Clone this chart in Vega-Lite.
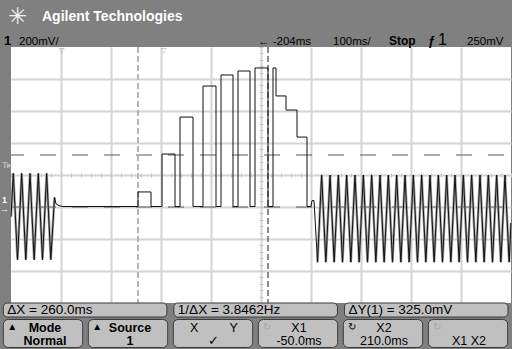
{
  "$schema": "https://vega.github.io/schema/vega-lite/v6.json",
  "width": 500,
  "height": 256,
  "autosize": {"type": "none"},
  "padding": {"left": 11, "top": 47, "right": 1, "bottom": 46},
  "background": "#808080",
  "view": {"fill": "#ffffff", "stroke": null},
  "config": {"font": "Liberation Sans"},
  "datasets": {
    "trace": [
      {"i":0,"t":-304,"v":-60},{"i":1,"t":-299.4,"v":210},{"i":2,"t":-291,"v":-330},{"i":3,"t":-282.7,"v":210},
      {"i":4,"t":-274.4,"v":-330},{"i":5,"t":-266,"v":210},{"i":6,"t":-257.7,"v":-330},{"i":7,"t":-249.4,"v":210},
      {"i":8,"t":-241,"v":-330},{"i":9,"t":-232.7,"v":210},{"i":10,"t":-224.4,"v":-330},{"i":11,"t":-217,"v":60},
      {"i":12,"t":-214,"v":20},{"i":13,"t":-208,"v":8},{"i":14,"t":-200,"v":3},{"i":15,"t":-50,"v":3},
      {"i":16,"t":-50,"v":94},{"i":17,"t":-24,"v":94},{"i":18,"t":-24,"v":3},{"i":19,"t":-2,"v":3},
      {"i":20,"t":-2,"v":331},{"i":21,"t":24,"v":331},{"i":22,"t":24,"v":3},{"i":23,"t":34,"v":3},
      {"i":24,"t":34,"v":562},{"i":25,"t":60,"v":562},{"i":26,"t":60,"v":3},{"i":27,"t":80,"v":3},
      {"i":28,"t":80,"v":756},{"i":29,"t":106,"v":756},{"i":30,"t":106,"v":3},{"i":31,"t":116,"v":3},
      {"i":32,"t":116,"v":825},{"i":33,"t":140,"v":825},{"i":34,"t":140,"v":3},{"i":35,"t":150,"v":3},
      {"i":36,"t":150,"v":850},{"i":37,"t":174,"v":850},{"i":38,"t":174,"v":3},{"i":39,"t":184,"v":3},
      {"i":40,"t":184,"v":869},{"i":41,"t":210,"v":869},{"i":42,"t":210,"v":3},{"i":43,"t":220,"v":3},
      {"i":44,"t":220,"v":869},{"i":45,"t":226,"v":869},{"i":46,"t":226,"v":694},{"i":47,"t":246,"v":694},
      {"i":48,"t":246,"v":606},{"i":49,"t":268,"v":606},{"i":50,"t":268,"v":437},{"i":51,"t":288,"v":437},
      {"i":52,"t":288,"v":3},{"i":53,"t":296,"v":3},{"i":54,"t":298,"v":40},{"i":55,"t":302,"v":40},
      {"i":56,"t":309,"v":-345},{"i":57,"t":317.3,"v":200},{"i":58,"t":325.7,"v":-345},{"i":59,"t":334,"v":200},
      {"i":60,"t":342.3,"v":-345},{"i":61,"t":350.7,"v":200},{"i":62,"t":359,"v":-345},{"i":63,"t":367.3,"v":200},
      {"i":64,"t":375.7,"v":-345},{"i":65,"t":384,"v":200},{"i":66,"t":392.3,"v":-345},{"i":67,"t":400.7,"v":200},
      {"i":68,"t":409,"v":-345},{"i":69,"t":417.3,"v":200},{"i":70,"t":425.7,"v":-345},{"i":71,"t":434,"v":200},
      {"i":72,"t":442.3,"v":-345},{"i":73,"t":450.7,"v":200},{"i":74,"t":459,"v":-345},{"i":75,"t":467.3,"v":200},
      {"i":76,"t":475.7,"v":-345},{"i":77,"t":484,"v":200},{"i":78,"t":492.3,"v":-345},{"i":79,"t":500.7,"v":200},
      {"i":80,"t":509,"v":-345},{"i":81,"t":517.3,"v":200},{"i":82,"t":525.7,"v":-345},{"i":83,"t":534,"v":200},
      {"i":84,"t":542.3,"v":-345},{"i":85,"t":550.7,"v":200},{"i":86,"t":559,"v":-345},{"i":87,"t":567.3,"v":200},
      {"i":88,"t":575.7,"v":-345},{"i":89,"t":584,"v":200},{"i":90,"t":592.3,"v":-345},{"i":91,"t":600.7,"v":200},
      {"i":92,"t":609,"v":-345},{"i":93,"t":617.3,"v":200},{"i":94,"t":625.7,"v":-345},{"i":95,"t":634,"v":200},
      {"i":96,"t":642.3,"v":-345},{"i":97,"t":650.7,"v":200},{"i":98,"t":659,"v":-345},{"i":99,"t":667.3,"v":200},
      {"i":100,"t":675.7,"v":-345},{"i":101,"t":684,"v":200},{"i":102,"t":692.3,"v":-345},{"i":103,"t":696,"v":-100}
    ],
    "xcursors": [{"cursor":"X1","t":-50,"active":"no"},{"cursor":"X2","t":210,"active":"yes"}],
    "ycursors": [{"cursor":"Y1","v":0},{"cursor":"Y2","v":325}],
    "refs": [{"name":"delay","t":-204},{"name":"trigger","t":0}],
    "one": [{}],
    "readouts": [
      {"slot":1,"label":"ΔX = 260.0ms"},
      {"slot":2,"label":"1/ΔX = 3.8462Hz"},
      {"slot":3,"label":"ΔY(1) = 325.0mV"}
    ],
    "buttons": [
      {"slot":1,"line1":"Mode","line2":"Normal","icon":"▲","state":"on"},
      {"slot":2,"line1":"Source","line2":"1","icon":"▲","state":"on"},
      {"slot":3,"line1":"X\u00a0\u00a0\u00a0\u00a0\u00a0\u00a0\u00a0\u00a0\u00a0Y","line2":"✓\u00a0\u00a0\u00a0\u00a0\u00a0\u00a0\u00a0\u00a0\u00a0\u00a0\u00a0\u00a0\u00a0","icon":"","state":"on"},
      {"slot":4,"line1":"X1","line2":"-50.0ms","icon":"↻","state":"off"},
      {"slot":5,"line1":"X2","line2":"210.0ms","icon":"↻","state":"on"},
      {"slot":6,"line1":"","line2":"X1 X2","icon":"↻","state":"off"}
    ]
  },
  "resolve": {"scale": {"x": "independent", "color": "independent"}, "axis": {"x": "independent", "y": "independent"}},
  "layer": [
    {
      "data": {"name": "ycursors"},
      "mark": {"type": "rule", "color": "#5a5a5a", "strokeWidth": 1, "strokeDash": [16, 16], "strokeDashOffset": 25},
      "encoding": {
        "y": {"field": "v", "type": "quantitative", "scale": {"domain": [-600, 1000], "nice": false, "zero": false},
          "axis": {"orient": "right", "offset": -252, "values": [-600,-560,-520,-480,-440,-400,-360,-320,-280,-240,-200,-160,-120,-80,-40,0,40,80,120,160,200,240,280,320,360,400,440,480,520,560,600,640,680,720,760,800,840,880,920,960,1000],
            "labels": false, "domain": false, "grid": false, "ticks": true, "tickSize": 4, "tickColor": "#c4c4c4", "tickWidth": 1, "title": null}}
      }
    },
    {
      "data": {"name": "xcursors"},
      "mark": {"type": "rule", "strokeWidth": 2, "strokeDash": [6, 3]},
      "encoding": {
        "x": {"field": "t", "type": "quantitative", "scale": {"domain": [-304, 696], "nice": false, "zero": false},
          "axis": {"orient": "top", "offset": -130, "values": [-304,-284,-264,-244,-224,-204,-184,-164,-144,-124,-104,-84,-64,-44,-24,-4,16,36,56,76,96,116,136,156,176,196,216,236,256,276,296,316,336,356,376,396,416,436,456,476,496,516,536,556,576,596,616,636,656,676,696],
            "labels": false, "domain": false, "grid": false, "ticks": true, "tickSize": 4, "tickColor": "#c4c4c4", "tickWidth": 1, "title": null}},
        "color": {"field": "active", "type": "nominal", "scale": {"domain": ["no", "yes"], "range": ["#b5b5b5", "#8a8a8a"]}, "legend": null}
      }
    },
    {
      "data": {"name": "trace"},
      "transform": [{"filter": "datum.t <= -217"}],
      "mark": {"type": "line", "color": "#a0a0a0", "strokeWidth": 2.5},
      "encoding": {
        "x": {"field": "t", "type": "quantitative", "scale": {"domain": [-304, 696], "nice": false, "zero": false}, "axis": null},
        "y": {"field": "v", "type": "quantitative", "scale": {"domain": [-600, 1000], "nice": false, "zero": false}, "axis": null},
        "order": {"field": "i", "type": "quantitative"}
      }
    },
    {
      "data": {"name": "trace"},
      "transform": [{"filter": "datum.t >= 309"}],
      "mark": {"type": "line", "color": "#a0a0a0", "strokeWidth": 2.5},
      "encoding": {
        "x": {"field": "t", "type": "quantitative", "scale": {"domain": [-304, 696], "nice": false, "zero": false}, "axis": null},
        "y": {"field": "v", "type": "quantitative", "scale": {"domain": [-600, 1000], "nice": false, "zero": false}, "axis": null},
        "order": {"field": "i", "type": "quantitative"}
      }
    },
    {
      "data": {"name": "trace"},
      "mark": {"type": "line", "color": "#111111", "strokeWidth": 1},
      "encoding": {
        "x": {"field": "t", "type": "quantitative", "scale": {"domain": [-304, 696], "nice": false, "zero": false},
          "axis": {"orient": "bottom", "values": [-204,-104,-4,96,196,296,396,496,596], "grid": true, "gridColor": "#d4d4d4", "gridWidth": 2, "ticks": false, "labels": false, "domain": false, "title": null}},
        "y": {"field": "v", "type": "quantitative", "scale": {"domain": [-600, 1000], "nice": false, "zero": false},
          "axis": {"orient": "left", "values": [-400,-200,0,200,400,600,800], "grid": true, "gridColor": "#d4d4d4", "gridWidth": 2, "ticks": false, "labels": false, "domain": false, "title": null}},
        "order": {"field": "i", "type": "quantitative"}
      }
    },
    {
      "data": {"name": "refs"},
      "mark": {"type": "text", "text": "▽", "fontSize": 7, "color": "#a8a8a8", "baseline": "top", "align": "center"},
      "encoding": {
        "x": {"field": "t", "type": "quantitative", "scale": {"domain": [-304, 696], "nice": false, "zero": false}, "axis": null},
        "y": {"datum": 1000, "type": "quantitative", "scale": {"domain": [-600, 1000], "nice": false, "zero": false}, "axis": null}
      }
    },
    {
      "data": {"name": "one"},
      "mark": {"type": "text", "text": "1", "fontSize": 9, "fontWeight": "bold", "color": "#ffffff", "align": "left", "baseline": "alphabetic"},
      "encoding": {
        "x": {"datum": -322, "type": "quantitative", "scale": {"domain": [-304, 696], "nice": false, "zero": false}, "axis": null},
        "y": {"datum": 25, "type": "quantitative", "scale": {"domain": [-600, 1000], "nice": false, "zero": false}, "axis": null}
      }
    },
    {
      "data": {"name": "one"},
      "mark": {"type": "text", "text": "→", "fontSize": 9, "color": "#e8e8e8", "align": "left", "baseline": "middle"},
      "encoding": {
        "x": {"datum": -326, "type": "quantitative", "scale": {"domain": [-304, 696], "nice": false, "zero": false}, "axis": null},
        "y": {"datum": -12, "type": "quantitative", "scale": {"domain": [-600, 1000], "nice": false, "zero": false}, "axis": null}
      }
    },
    {
      "data": {"name": "one"},
      "mark": {"type": "text", "text": "T▸", "fontSize": 9, "fontWeight": "bold", "color": "#b8b8b8", "align": "left", "baseline": "alphabetic"},
      "encoding": {
        "x": {"datum": -322, "type": "quantitative", "scale": {"domain": [-304, 696], "nice": false, "zero": false}, "axis": null},
        "y": {"datum": 243.75, "type": "quantitative", "scale": {"domain": [-600, 1000], "nice": false, "zero": false}, "axis": null}
      }
    },
    {
      "data": {"name": "one"},
      "mark": {"type": "text", "text": "✳", "fontSize": 23, "color": "#f0f0f0", "align": "center", "baseline": "middle"},
      "encoding": {
        "x": {"datum": -292, "type": "quantitative", "scale": {"domain": [-304, 696], "nice": false, "zero": false}, "axis": null},
        "y": {"datum": 1190, "type": "quantitative", "scale": {"domain": [-600, 1000], "nice": false, "zero": false}, "axis": null}
      }
    },
    {
      "data": {"name": "one"},
      "mark": {"type": "text", "text": "Agilent Technologies", "fontSize": 14, "fontWeight": "bold", "color": "#ffffff", "align": "left", "baseline": "alphabetic"},
      "encoding": {
        "x": {"datum": -242, "type": "quantitative", "scale": {"domain": [-304, 696], "nice": false, "zero": false}, "axis": null},
        "y": {"datum": 1162.5, "type": "quantitative", "scale": {"domain": [-600, 1000], "nice": false, "zero": false}, "axis": null}
      }
    },
    {
      "data": {"name": "one"},
      "mark": {"type": "text", "text": "1", "fontSize": 13, "fontWeight": "bold", "color": "#000000", "align": "left", "baseline": "alphabetic"},
      "encoding": {
        "x": {"datum": -318, "type": "quantitative", "scale": {"domain": [-304, 696], "nice": false, "zero": false}, "axis": null},
        "y": {"datum": 1012.5, "type": "quantitative", "scale": {"domain": [-600, 1000], "nice": false, "zero": false}, "axis": null}
      }
    },
    {
      "data": {"name": "one"},
      "mark": {"type": "text", "text": "200mV/", "fontSize": 11.5, "color": "#000000", "align": "left", "baseline": "alphabetic"},
      "encoding": {
        "x": {"datum": -288, "type": "quantitative", "scale": {"domain": [-304, 696], "nice": false, "zero": false}, "axis": null},
        "y": {"datum": 1012.5, "type": "quantitative", "scale": {"domain": [-600, 1000], "nice": false, "zero": false}, "axis": null}
      }
    },
    {
      "data": {"name": "one"},
      "mark": {"type": "text", "text": "← -204ms", "fontSize": 11.5, "color": "#000000", "align": "left", "baseline": "alphabetic"},
      "encoding": {
        "x": {"datum": 190, "type": "quantitative", "scale": {"domain": [-304, 696], "nice": false, "zero": false}, "axis": null},
        "y": {"datum": 1012.5, "type": "quantitative", "scale": {"domain": [-600, 1000], "nice": false, "zero": false}, "axis": null}
      }
    },
    {
      "data": {"name": "one"},
      "mark": {"type": "text", "text": "100ms/", "fontSize": 11.5, "color": "#000000", "align": "left", "baseline": "alphabetic"},
      "encoding": {
        "x": {"datum": 340, "type": "quantitative", "scale": {"domain": [-304, 696], "nice": false, "zero": false}, "axis": null},
        "y": {"datum": 1012.5, "type": "quantitative", "scale": {"domain": [-600, 1000], "nice": false, "zero": false}, "axis": null}
      }
    },
    {
      "data": {"name": "one"},
      "mark": {"type": "text", "text": "Stop", "fontSize": 12, "fontWeight": "bold", "color": "#000000", "align": "left", "baseline": "alphabetic"},
      "encoding": {
        "x": {"datum": 452, "type": "quantitative", "scale": {"domain": [-304, 696], "nice": false, "zero": false}, "axis": null},
        "y": {"datum": 1012.5, "type": "quantitative", "scale": {"domain": [-600, 1000], "nice": false, "zero": false}, "axis": null}
      }
    },
    {
      "data": {"name": "one"},
      "mark": {"type": "text", "text": "ƒ", "fontSize": 13, "fontWeight": "bold", "color": "#000000", "align": "left", "baseline": "alphabetic"},
      "encoding": {
        "x": {"datum": 530, "type": "quantitative", "scale": {"domain": [-304, 696], "nice": false, "zero": false}, "axis": null},
        "y": {"datum": 1012.5, "type": "quantitative", "scale": {"domain": [-600, 1000], "nice": false, "zero": false}, "axis": null}
      }
    },
    {
      "data": {"name": "one"},
      "mark": {"type": "text", "text": "1", "fontSize": 16, "color": "#000000", "align": "left", "baseline": "alphabetic"},
      "encoding": {
        "x": {"datum": 550, "type": "quantitative", "scale": {"domain": [-304, 696], "nice": false, "zero": false}, "axis": null},
        "y": {"datum": 1012.5, "type": "quantitative", "scale": {"domain": [-600, 1000], "nice": false, "zero": false}, "axis": null}
      }
    },
    {
      "data": {"name": "one"},
      "mark": {"type": "text", "text": "250mV", "fontSize": 11.5, "color": "#000000", "align": "left", "baseline": "alphabetic"},
      "encoding": {
        "x": {"datum": 608, "type": "quantitative", "scale": {"domain": [-304, 696], "nice": false, "zero": false}, "axis": null},
        "y": {"datum": 1012.5, "type": "quantitative", "scale": {"domain": [-600, 1000], "nice": false, "zero": false}, "axis": null}
      }
    },
    {
      "data": {"name": "readouts"},
      "mark": {"type": "rect", "fill": "#c0c0c0", "stroke": "#3a3a3a", "strokeWidth": 1, "cornerRadius": 4},
      "encoding": {
        "x": {"field": "slot", "type": "ordinal", "scale": {"type": "band", "domain": [1, 2, 3], "range": [-7.7, 497], "paddingInner": 0.041, "paddingOuter": 0}, "axis": null},
        "y": {"datum": -600, "type": "quantitative", "scale": {"domain": [-600, 1000], "nice": false, "zero": false}, "axis": null},
        "y2": {"datum": -687.5}
      }
    },
    {
      "data": {"name": "readouts"},
      "mark": {"type": "text", "fontSize": 13.5, "color": "#000000", "align": "left", "baseline": "alphabetic", "dx": 4},
      "encoding": {
        "x": {"field": "slot", "type": "ordinal", "bandPosition": 0, "scale": {"type": "band", "domain": [1, 2, 3], "range": [-7.7, 497], "paddingInner": 0.041, "paddingOuter": 0}, "axis": null},
        "y": {"datum": -668.75, "type": "quantitative", "scale": {"domain": [-600, 1000], "nice": false, "zero": false}, "axis": null},
        "text": {"field": "label", "type": "nominal"}
      }
    },
    {
      "data": {"name": "buttons"},
      "mark": {"type": "rect", "fill": "#c0c0c0", "stroke": "#3a3a3a", "strokeWidth": 1, "cornerRadius": 5},
      "encoding": {
        "x": {"field": "slot", "type": "ordinal", "scale": {"type": "band", "domain": [1, 2, 3, 4, 5, 6], "range": [-7.7, 496.7], "paddingInner": 0.066, "paddingOuter": 0}, "axis": null},
        "y": {"datum": -703, "type": "quantitative", "scale": {"domain": [-600, 1000], "nice": false, "zero": false}, "axis": null},
        "y2": {"datum": -878}
      }
    },
    {
      "data": {"name": "buttons"},
      "transform": [{"filter": "datum.slot <= 2"}],
      "mark": {"type": "text", "fontSize": 12.5, "fontWeight": "bold", "color": "#000000", "align": "center", "baseline": "alphabetic", "dx": 2},
      "encoding": {
        "x": {"field": "slot", "type": "ordinal", "scale": {"type": "band", "domain": [1, 2, 3, 4, 5, 6], "range": [-7.7, 496.7], "paddingInner": 0.066, "paddingOuter": 0}, "axis": null},
        "y": {"datum": -781.25, "type": "quantitative", "scale": {"domain": [-600, 1000], "nice": false, "zero": false}, "axis": null},
        "text": {"field": "line1", "type": "nominal"}
      }
    },
    {
      "data": {"name": "buttons"},
      "transform": [{"filter": "datum.slot <= 2"}],
      "mark": {"type": "text", "fontSize": 12.5, "fontWeight": "bold", "color": "#000000", "align": "center", "baseline": "alphabetic", "dx": 2},
      "encoding": {
        "x": {"field": "slot", "type": "ordinal", "scale": {"type": "band", "domain": [1, 2, 3, 4, 5, 6], "range": [-7.7, 496.7], "paddingInner": 0.066, "paddingOuter": 0}, "axis": null},
        "y": {"datum": -862.5, "type": "quantitative", "scale": {"domain": [-600, 1000], "nice": false, "zero": false}, "axis": null},
        "text": {"field": "line2", "type": "nominal"}
      }
    },
    {
      "data": {"name": "buttons"},
      "transform": [{"filter": "datum.slot > 2"}],
      "mark": {"type": "text", "fontSize": 12.5, "color": "#000000", "align": "center", "baseline": "alphabetic", "dx": 1},
      "encoding": {
        "x": {"field": "slot", "type": "ordinal", "scale": {"type": "band", "domain": [1, 2, 3, 4, 5, 6], "range": [-7.7, 496.7], "paddingInner": 0.066, "paddingOuter": 0}, "axis": null},
        "y": {"datum": -781.25, "type": "quantitative", "scale": {"domain": [-600, 1000], "nice": false, "zero": false}, "axis": null},
        "text": {"field": "line1", "type": "nominal"}
      }
    },
    {
      "data": {"name": "buttons"},
      "transform": [{"filter": "datum.slot > 2"}],
      "mark": {"type": "text", "fontSize": 12.5, "color": "#000000", "align": "center", "baseline": "alphabetic", "dx": 1},
      "encoding": {
        "x": {"field": "slot", "type": "ordinal", "scale": {"type": "band", "domain": [1, 2, 3, 4, 5, 6], "range": [-7.7, 496.7], "paddingInner": 0.066, "paddingOuter": 0}, "axis": null},
        "y": {"datum": -862.5, "type": "quantitative", "scale": {"domain": [-600, 1000], "nice": false, "zero": false}, "axis": null},
        "text": {"field": "line2", "type": "nominal"}
      }
    },
    {
      "data": {"name": "buttons"},
      "transform": [{"filter": "datum.icon != ''"}],
      "mark": {"type": "text", "fontSize": 10, "align": "center", "baseline": "middle", "dx": 9},
      "encoding": {
        "x": {"field": "slot", "type": "ordinal", "bandPosition": 0, "scale": {"type": "band", "domain": [1, 2, 3, 4, 5, 6], "range": [-7.7, 496.7], "paddingInner": 0.066, "paddingOuter": 0}, "axis": null},
        "y": {"datum": -753, "type": "quantitative", "scale": {"domain": [-600, 1000], "nice": false, "zero": false}, "axis": null},
        "text": {"field": "icon", "type": "nominal"},
        "color": {"field": "state", "type": "nominal", "scale": {"domain": ["on", "off"], "range": ["#000000", "#a8a8a8"]}, "legend": null}
      }
    }
  ]
}
